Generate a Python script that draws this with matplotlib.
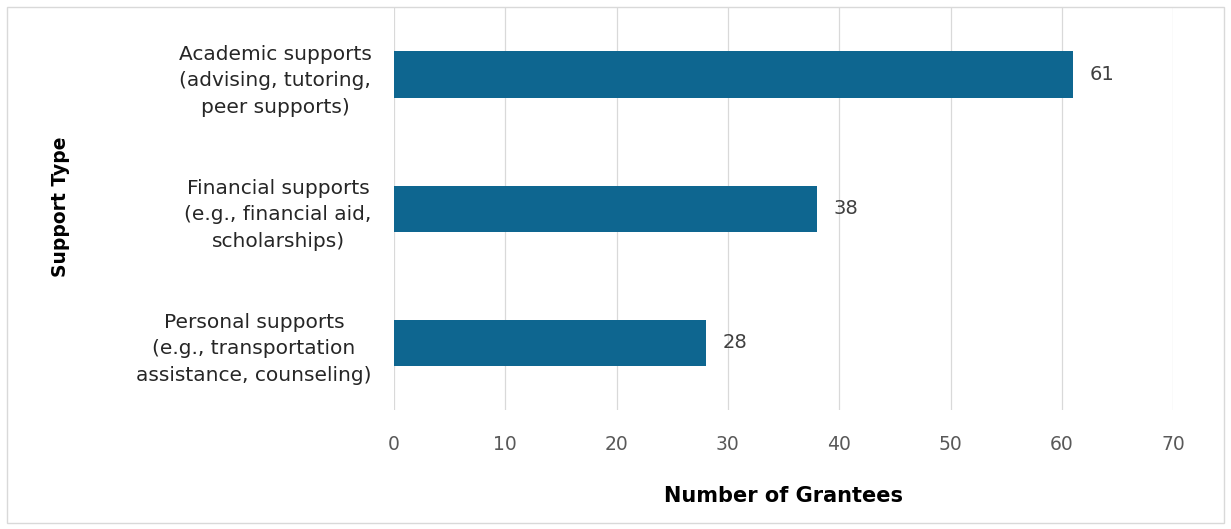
import matplotlib.pyplot as plt
from matplotlib.patches import Rectangle

plt.rcParams["font.family"] = ["DejaVu Sans"]

categories = [
    "Academic supports\n(advising, tutoring,\npeer supports)",
    "Financial supports\n(e.g., financial aid,\nscholarships)",
    "Personal supports\n(e.g., transportation\nassistance, counseling)",
]
grantees = [61, 38, 28]
x_ticks = [0, 10, 20, 30, 40, 50, 60, 70]

bar_color = "#0e6690"

fig = plt.figure(figsize=(12.31, 5.29), dpi=100)
ax = fig.add_axes([0.32, 0.225, 0.633, 0.76])

pos = list(range(len(categories)))
ax.barh(pos, grantees, height=0.35, color=bar_color, zorder=3)
for p, v in zip(pos, grantees):
    ax.text(v + 1.5, p, str(v), va="center", ha="left", fontsize=14, color="#404040")

ax.set_ylim(2.5, -0.5)
ax.set_xlim(0, 70)
ax.set_yticks(pos)
ax.set_yticklabels(categories, fontsize=14.5, color="#262626", ha="right",
                   multialignment="center", linespacing=1.5)
ax.tick_params(axis="y", length=0, pad=16)
ax.set_xticks(x_ticks)
ax.tick_params(axis="x", length=0, pad=18, labelsize=13.5, labelcolor="#595959")
ax.grid(axis="x", color="#d9d9d9", linewidth=0.9, zorder=0)
for s in ax.spines.values():
    s.set_visible(False)

ax.set_xlabel("Number of Grantees", fontsize=15, fontweight="bold", labelpad=23)
fig.text(0.049, 0.61, "Support Type", rotation=90, fontsize=13.5, fontweight="bold",
         ha="center", va="center")

fig.patches.append(Rectangle((0.006, 0.012), 0.988, 0.975, transform=fig.transFigure,
                             fill=False, edgecolor="#d9d9d9", linewidth=1.0))

fig.savefig("out.png", dpi=100)
